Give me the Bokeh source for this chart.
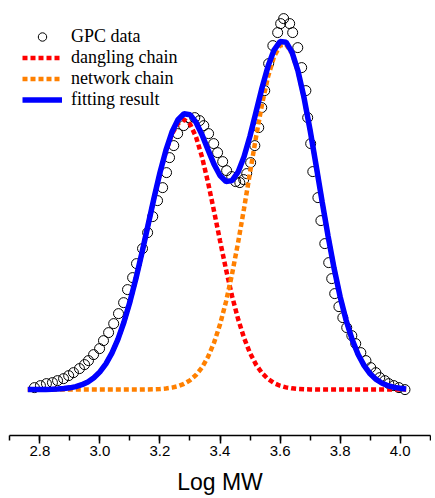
from bokeh.plotting import figure
from bokeh.models import Legend, LegendItem, SingleIntervalTicker, PrintfTickFormatter, Range1d
from bokeh.embed import file_html
from bokeh.resources import INLINE

# GPC data (Log MW, normalized signal)
gpc_logmw = [2.782, 2.802, 2.822, 2.842, 2.859, 2.879, 2.896, 2.912, 2.932, 2.949,
             2.962, 2.979, 2.999, 3.012, 3.029, 3.046, 3.062, 3.079, 3.092, 3.109,
             3.122, 3.142, 3.159, 3.176, 3.192, 3.209, 3.222, 3.232, 3.246, 3.259,
             3.279, 3.296, 3.316, 3.332, 3.346, 3.362, 3.379, 3.392, 3.409, 3.422,
             3.439, 3.452, 3.466, 3.479, 3.489, 3.502, 3.516, 3.529, 3.539, 3.549,
             3.562, 3.576, 3.592, 3.602, 3.612, 3.632, 3.642, 3.659, 3.672, 3.686,
             3.692, 3.702, 3.709, 3.726, 3.736, 3.749, 3.762, 3.772, 3.782, 3.796,
             3.809, 3.822, 3.839, 3.852, 3.869, 3.886, 3.902, 3.919, 3.932, 3.949,
             3.962, 3.979, 3.996, 4.016]
gpc_signal = [0.0054, 0.0108, 0.0162, 0.0189, 0.0243, 0.0297, 0.0378, 0.0459, 0.0568, 0.0676,
              0.0784, 0.0946, 0.1108, 0.1324, 0.1541, 0.1784, 0.2054, 0.2351, 0.2703, 0.3027,
              0.3405, 0.3811, 0.4243, 0.4676, 0.5108, 0.5459, 0.5865, 0.6270, 0.6595, 0.6919,
              0.7135, 0.7351, 0.7351, 0.7270, 0.7135, 0.6919, 0.6649, 0.6405, 0.6162, 0.5919,
              0.5757, 0.5622, 0.5595, 0.5676, 0.5838, 0.6135, 0.6595, 0.7081, 0.7622, 0.8081,
              0.8811, 0.9297, 0.9649, 0.9892, 1.0027, 0.9892, 0.9649, 0.9243, 0.8703, 0.8081,
              0.7351, 0.6649, 0.5892, 0.5189, 0.4568, 0.3946, 0.3432, 0.3000, 0.2595, 0.2243,
              0.1946, 0.1676, 0.1459, 0.1243, 0.1000, 0.0784, 0.0595, 0.0459, 0.0324, 0.0243,
              0.0162, 0.0108, 0.0054, 0.0000]

# Fitted curves
fit_logmw = [2.76, 2.78, 2.80, 2.82, 2.84, 2.86, 2.88, 2.90, 2.92, 2.94,
             2.96, 2.98, 3.00, 3.02, 3.04, 3.06, 3.08, 3.10, 3.12, 3.14,
             3.16, 3.18, 3.20, 3.22, 3.24, 3.26, 3.28, 3.30, 3.32, 3.34,
             3.36, 3.38, 3.40, 3.42, 3.44, 3.46, 3.48, 3.50, 3.52, 3.54,
             3.56, 3.58, 3.60, 3.62, 3.64, 3.66, 3.68, 3.70, 3.72, 3.74,
             3.76, 3.78, 3.80, 3.82, 3.84, 3.86, 3.88, 3.90, 3.92, 3.94,
             3.96, 3.98, 4.00, 4.02]
dangling = [0.0001, 0.0001, 0.0002, 0.0005, 0.0009, 0.0016, 0.0028, 0.0048, 0.0081, 0.0132,
            0.0208, 0.0321, 0.0480, 0.0698, 0.0988, 0.1359, 0.1821, 0.2370, 0.3001, 0.3696,
            0.4428, 0.5158, 0.5845, 0.6442, 0.6906, 0.7199, 0.7300, 0.7180, 0.6833, 0.6291,
            0.5603, 0.4829, 0.4027, 0.3248, 0.2534, 0.1914, 0.1398, 0.0988, 0.0676, 0.0447,
            0.0286, 0.0177, 0.0106, 0.0061, 0.0034, 0.0019, 0.0010, 0.0005, 0.0002, 0.0001,
            0.0, 0.0, 0.0, 0.0, 0.0, 0.0, 0.0, 0.0, 0.0, 0.0,
            0.0, 0.0, 0.0, 0.0]
network = [0.0, 0.0, 0.0, 0.0, 0.0, 0.0, 0.0, 0.0, 0.0, 0.0,
           0.0, 0.0, 0.0, 0.0, 0.0, 0.0, 0.0, 0.0001, 0.0001, 0.0002,
           0.0005, 0.0009, 0.0017, 0.0031, 0.0055, 0.0094, 0.0156, 0.0251, 0.0394, 0.0598,
           0.0883, 0.1265, 0.1760, 0.2376, 0.3115, 0.3963, 0.4894, 0.5867, 0.6826, 0.7712,
           0.8456, 0.9000, 0.9300, 0.9328, 0.9082, 0.8584, 0.7874, 0.7012, 0.6062, 0.5086,
           0.4143, 0.3275, 0.2514, 0.1874, 0.1355, 0.0951, 0.0648, 0.0429, 0.0275, 0.0172,
           0.0104, 0.0061, 0.0035, 0.0019]
fitting = [0.0001, 0.0001, 0.0002, 0.0005, 0.0009, 0.0016, 0.0028, 0.0048, 0.0081, 0.0132,
           0.0208, 0.0321, 0.0480, 0.0698, 0.0988, 0.1359, 0.1821, 0.2371, 0.3002, 0.3698,
           0.4433, 0.5167, 0.5862, 0.6473, 0.6961, 0.7293, 0.7456, 0.7431, 0.7227, 0.6889,
           0.6486, 0.6094, 0.5787, 0.5624, 0.5649, 0.5877, 0.6292, 0.6855, 0.7502, 0.8159,
           0.8742, 0.9177, 0.9406, 0.9389, 0.9116, 0.8603, 0.7884, 0.7017, 0.6064, 0.5087,
           0.4143, 0.3275, 0.2514, 0.1874, 0.1355, 0.0951, 0.0648, 0.0429, 0.0275, 0.0172,
           0.0104, 0.0061, 0.0035, 0.0019]

legend_labels = ["GPC data", "dangling chain", "network chain", "fitting result"]

p = figure(width=431, height=497, output_backend="svg", toolbar_location=None,
           x_range=Range1d(2.699, 4.101), y_range=Range1d(-0.124, 1.03),
           y_axis_location=None, min_border_left=9, min_border_right=1,
           min_border_top=8, min_border_bottom=62)
p.outline_line_color = None
p.xgrid.visible = False
p.ygrid.visible = False
p.background_fill_color = "white"
p.border_fill_color = "white"

r_gpc = p.scatter(gpc_logmw, gpc_signal, marker="circle", size=10, fill_color=None,
                  line_color="black", line_width=1)
r_dang = p.line(fit_logmw, dangling, line_color="#FF0000", line_width=4.5, line_dash="5 3")
r_net = p.line(fit_logmw, network, line_color="#FF8000", line_width=4.5, line_dash="5 3")
r_fit = p.line(fit_logmw, fitting, line_color="#0000FF", line_width=5.5)

ax = p.xaxis[0]
ax.ticker = SingleIntervalTicker(interval=0.2, num_minor_ticks=2)
ax.formatter = PrintfTickFormatter(format="%.1f")
ax.axis_label = "Log MW"
ax.axis_label_text_font = "Liberation Sans"
ax.axis_label_text_font_size = "23px"
ax.axis_label_text_font_style = "normal"
ax.axis_label_text_color = "black"
ax.axis_label_standoff = 10
ax.major_label_text_font = "Liberation Sans"
ax.major_label_text_font_size = "15px"
ax.major_label_text_color = "black"
ax.major_label_standoff = 2
ax.axis_line_color = "black"
ax.axis_line_width = 1.5
ax.major_tick_line_color = "black"
ax.major_tick_line_width = 1.5
ax.minor_tick_line_color = "black"
ax.minor_tick_line_width = 1.5
ax.major_tick_in = 0
ax.major_tick_out = 8
ax.minor_tick_in = 0
ax.minor_tick_out = 5

legend = Legend(items=[LegendItem(label=legend_labels[0], renderers=[r_gpc]),
                       LegendItem(label=legend_labels[1], renderers=[r_dang]),
                       LegendItem(label=legend_labels[2], renderers=[r_net]),
                       LegendItem(label=legend_labels[3], renderers=[r_fit])],
                location=(13, 325))
legend.padding = 0
legend.margin = 0
legend.spacing = 0
legend.glyph_width = 40
legend.glyph_height = 21
legend.label_height = 21
legend.label_standoff = 9
legend.label_text_font = "Liberation Serif"
legend.label_text_font_size = "18px"
legend.label_text_color = "black"
legend.background_fill_alpha = 0
legend.border_line_color = None
p.add_layout(legend)

open("out.html", "w").write(file_html(p, INLINE))
